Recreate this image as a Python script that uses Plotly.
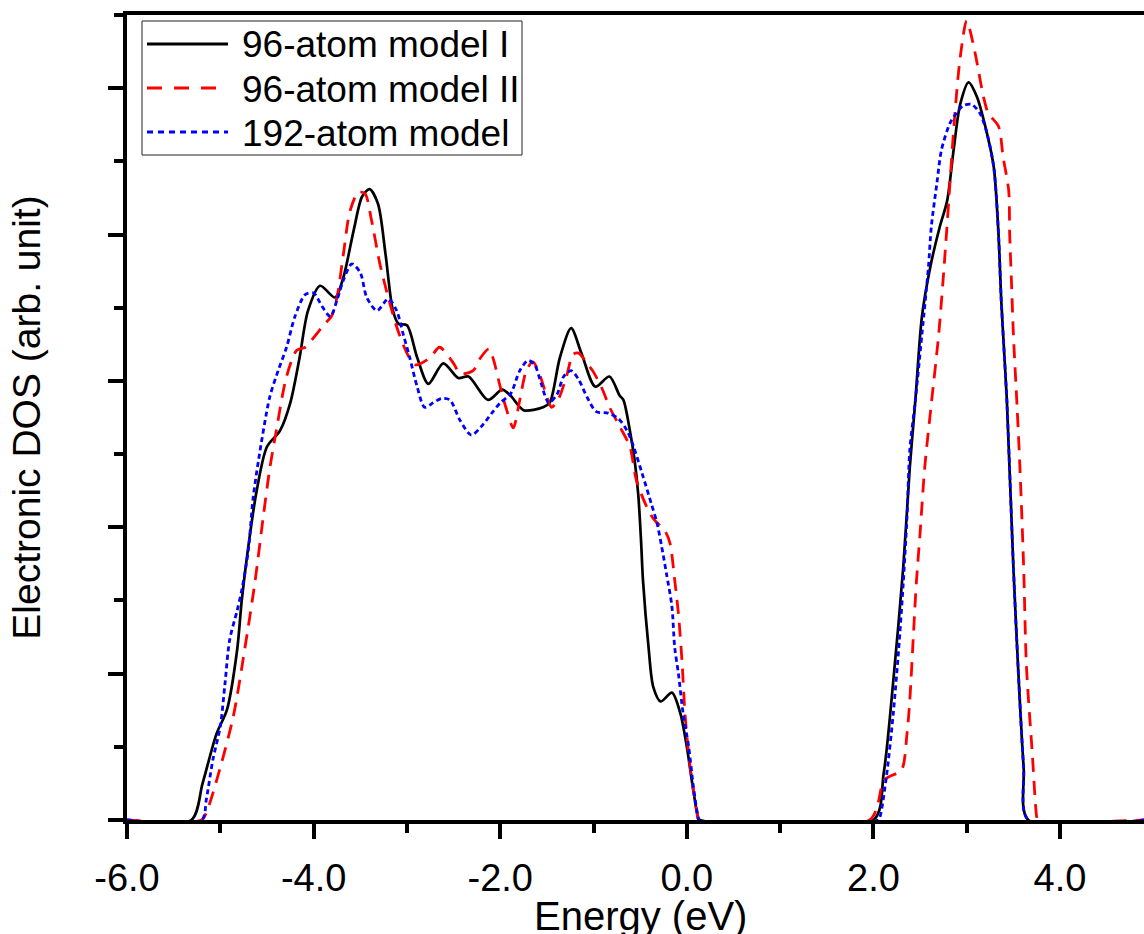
import plotly.graph_objects as go

# ---- data (energy in eV, DOS in arbitrary units) ----
e_model1 = [-6.0, -5.31, -5.19, -5.04, -4.93, -4.82, -4.77, -4.68, -4.61, -4.50, -4.36, -4.25, -4.15,
            -4.06, -3.93, -3.77, -3.68, -3.57, -3.48, -3.40, -3.31, -3.23, -3.15, -3.09, -3.00, -2.89,
            -2.77, -2.61, -2.45, -2.34, -2.13, -1.98, -1.89, -1.75, -1.54, -1.47, -1.36, -1.24, -1.13,
            -0.98, -0.83, -0.72, -0.68, -0.61, -0.56, -0.52, -0.49, -0.47, -0.41, -0.36, -0.28, -0.16,
            -0.07, 0.00, 0.07, 0.12, 0.14, 2.00, 2.11, 2.21, 2.32, 2.39, 2.45, 2.52, 2.61, 2.71, 2.79,
            2.86, 2.93, 3.02, 3.11, 3.21, 3.29, 3.34, 3.37, 3.41, 3.43, 3.50, 3.55, 3.61, 3.66, 4.9]
dos_model1 = [0, 0, 0.25, 0.59, 0.75, 1.16, 1.50, 1.96, 2.25, 2.55, 2.66, 2.85, 3.16,
              3.48, 3.65, 3.57, 3.71, 4.03, 4.26, 4.31, 4.21, 3.87, 3.48, 3.39, 3.38, 3.16,
              2.98, 3.12, 3.02, 3.03, 2.87, 2.94, 2.90, 2.80, 2.82, 2.85, 3.16, 3.36, 3.19,
              2.96, 3.03, 2.90, 2.87, 2.66, 2.46, 2.22, 1.90, 1.64, 1.18, 0.91, 0.81, 0.87,
              0.73, 0.50, 0.20, 0.02, 0, 0, 0.32, 0.93, 1.73, 2.41, 2.87, 3.44, 3.78, 4.05, 4.23,
              4.58, 4.89, 5.04, 4.94, 4.71, 4.46, 4.01, 3.55, 3.10, 2.87, 1.73, 1.05, 0.36, 0, 0]

e_model2 = [-6.0, -5.20, -5.15, -5.00, -4.86, -4.74, -4.63, -4.54, -4.47, -4.40, -4.29, -4.18, -4.09,
            -4.02, -3.88, -3.81, -3.75, -3.68, -3.61, -3.52, -3.45, -3.38, -3.29, -3.20, -3.11, -3.00,
            -2.91, -2.75, -2.65, -2.50, -2.43, -2.29, -2.22, -2.12, -2.07, -2.00, -1.93, -1.86, -1.79,
            -1.72, -1.65, -1.57, -1.50, -1.45, -1.38, -1.29, -1.22, -1.16, -1.07, -1.00, -0.91, -0.82,
            -0.72, -0.61, -0.54, -0.43, -0.36, -0.23, -0.18, -0.13, -0.09, -0.05, -0.02, 0.03, 0.11,
            0.13, 1.96, 2.11, 2.18, 2.30, 2.36, 2.39, 2.43, 2.46, 2.50, 2.55, 2.62, 2.70, 2.77, 2.82,
            2.87, 2.93, 3.00, 3.07, 3.12, 3.18, 3.23, 3.34, 3.39, 3.45, 3.46, 3.48, 3.50, 3.54, 3.57,
            3.61, 3.64, 3.70, 3.75, 3.76, 4.9]
dos_model2 = [0, 0, 0.05, 0.36, 0.71, 1.16, 1.62, 2.07, 2.40, 2.66, 3.03, 3.21, 3.23,
              3.28, 3.39, 3.44, 3.57, 3.87, 4.16, 4.29, 4.28, 4.10, 3.80, 3.57, 3.37, 3.19,
              3.11, 3.16, 3.23, 3.12, 3.05, 3.07, 3.15, 3.22, 3.14, 2.96, 2.80, 2.68, 2.87,
              3.07, 3.13, 3.03, 2.89, 2.82, 2.87, 3.03, 3.18, 3.19, 3.12, 3.06, 2.95, 2.81,
              2.69, 2.55, 2.32, 2.14, 2.06, 1.97, 1.89, 1.64, 1.41, 1.07, 0.73, 0.39, 0.05,
              0, 0, 0.27, 0.30, 0.34, 0.59, 0.82, 1.28, 1.62, 1.96, 2.41, 2.84, 3.32, 3.89, 4.35,
              4.80, 5.21, 5.46, 5.30, 5.14, 4.94, 4.83, 4.74, 4.53, 4.30, 4.01, 3.67, 3.32, 2.82, 2.41,
              1.73, 1.05, 0.48, 0.02, 0, 0]

e_192 = [-6.0, -5.20, -5.15, -5.08, -5.00, -4.95, -4.90, -4.82, -4.77, -4.70, -4.65, -4.59, -4.47,
         -4.38, -4.29, -4.20, -4.09, -4.00, -3.91, -3.82, -3.75, -3.68, -3.59, -3.50, -3.43, -3.32,
         -3.20, -3.11, -3.04, -2.97, -2.89, -2.81, -2.72, -2.63, -2.54, -2.43, -2.31, -2.20, -2.09,
         -2.00, -1.89, -1.79, -1.70, -1.63, -1.56, -1.48, -1.39, -1.32, -1.24, -1.16, -1.07, -0.97,
         -0.84, -0.73, -0.64, -0.57, -0.48, -0.38, -0.32, -0.27, -0.22, -0.16, -0.13, -0.09, -0.04,
         0.02, 0.07, 0.12, 0.13, 2.05, 2.07, 2.14, 2.21, 2.27, 2.32, 2.36, 2.39, 2.45, 2.52, 2.59,
         2.62, 2.68, 2.73, 2.82, 2.89, 2.96, 3.05, 3.14, 3.21, 3.29, 3.34, 3.37, 3.41, 3.43, 3.50,
         3.55, 3.61, 3.66, 4.9]
dos_192 = [0, 0, 0.14, 0.41, 0.64, 0.93, 1.23, 1.43, 1.57, 1.84, 2.19, 2.46, 2.89,
           3.07, 3.23, 3.44, 3.59, 3.60, 3.51, 3.44, 3.55, 3.69, 3.80, 3.74, 3.57, 3.48,
           3.56, 3.48, 3.32, 3.16, 2.96, 2.82, 2.85, 2.88, 2.87, 2.73, 2.63, 2.69, 2.78,
           2.85, 2.91, 3.07, 3.14, 3.11, 2.98, 2.85, 2.91, 3.03, 3.07, 3.01, 2.89, 2.79,
           2.78, 2.74, 2.66, 2.55, 2.37, 2.16, 2.03, 1.87, 1.69, 1.46, 1.18, 1.00, 0.73,
           0.50, 0.23, 0.02, 0, 0, 0.02, 0.30, 0.71, 1.16, 1.62, 2.07, 2.53, 2.87, 3.32, 3.78,
           4.05, 4.35, 4.58, 4.76, 4.83, 4.88, 4.89, 4.83, 4.71, 4.46, 4.01, 3.55, 3.10, 2.87, 1.73,
           1.05, 0.36, 0, 0]

x_tickvals = [-6, -4, -2, 0, 2, 4]
x_ticktext = ["-6.0", "-4.0", "-2.0", "0.0", "2.0", "4.0"]

series_names = ["96-atom model I", "96-atom model II", "192-atom model"]
series_colors = ["#000000", "#ff0000", "#0000ff"]
series_dash = ["solid", "14px,9px", "5px,3.5px"]
legend_dash = ["solid", "15px,12px", "6px,5px"]

FONT = "Liberation Sans, Arial, sans-serif"

fig = go.Figure()
for xs, ys, nm, col, dsh in zip([e_model1, e_model2, e_192], [dos_model1, dos_model2, dos_192],
                                series_names, series_colors, series_dash):
    fig.add_trace(go.Scatter(x=xs, y=ys, mode="lines", name=nm, showlegend=False,
                             line=dict(color=col, width=2.8 if dsh != "solid" else 2.7, dash=dsh,
                                       shape="spline", smoothing=0.8)))

# ---- legend box drawn in paper coordinates (pixel geometry of the original) ----
PL, PW, PB, PH = 127.0, 1017.0, 820.0, 805.0
def px_x(p):
    return (p - PL) / PW
def px_y(p):
    return (PB - p) / PH

shapes = [dict(type="rect", xref="paper", yref="paper", layer="above",
               x0=px_x(142), x1=px_x(522), y0=px_y(155), y1=px_y(21),
               line=dict(color="#222222", width=1), fillcolor="white")]
annotations = []
row_px = [44, 88, 132]
for i, nm in enumerate(series_names):
    shapes.append(dict(type="line", xref="paper", yref="paper", layer="above",
                       x0=px_x(147), x1=px_x(228), y0=px_y(row_px[i]), y1=px_y(row_px[i]),
                       line=dict(color=series_colors[i], width=2.8, dash=legend_dash[i])))
    annotations.append(dict(text=nm, xref="paper", yref="paper", x=px_x(240), y=px_y(row_px[i] + 1),
                            xanchor="left", yanchor="middle", showarrow=False,
                            font=dict(family=FONT, size=37, color="black")))

# x-axis title placed like the original (near the bottom edge)
annotations.append(dict(text="Energy (eV)", xref="paper", yref="paper", x=px_x(640), y=px_y(916),
                        xanchor="center", yanchor="middle", showarrow=False,
                        font=dict(family=FONT, size=40, color="black")))

fig.update_layout(
    width=1144, height=934,
    margin=dict(l=127, r=0, t=15, b=114),
    paper_bgcolor="white", plot_bgcolor="white",
    font=dict(family=FONT, color="black"),
    showlegend=False,
    shapes=shapes,
    annotations=annotations,
    xaxis=dict(range=[-6, 4.9], showgrid=False, zeroline=False,
               showline=True, linecolor="black", linewidth=4, mirror=True,
               layer="below traces",
               tickvals=x_tickvals, ticktext=x_ticktext,
               ticks="outside", ticklen=15, tickwidth=4, tickcolor="black",
               ticklabelstandoff=6,
               minor=dict(dtick=1, tick0=0, ticks="outside", ticklen=9, tickwidth=4, tickcolor="black"),
               tickfont=dict(family=FONT, size=38, color="black"),
               automargin=False),
    yaxis=dict(range=[0, 5.5], showgrid=False, zeroline=False,
               showline=True, linecolor="black", linewidth=4,
               layer="below traces",
               dtick=1, tick0=0, showticklabels=False,
               ticks="outside", ticklen=15, tickwidth=4, tickcolor="black",
               minor=dict(dtick=0.5, tick0=0, ticks="outside", ticklen=9, tickwidth=4, tickcolor="black"),
               title=dict(text="Electronic DOS (arb. unit)", font=dict(family=FONT, size=39, color="black"),
                          standoff=56),
               automargin=False),
)

fig.write_html("out.html")
